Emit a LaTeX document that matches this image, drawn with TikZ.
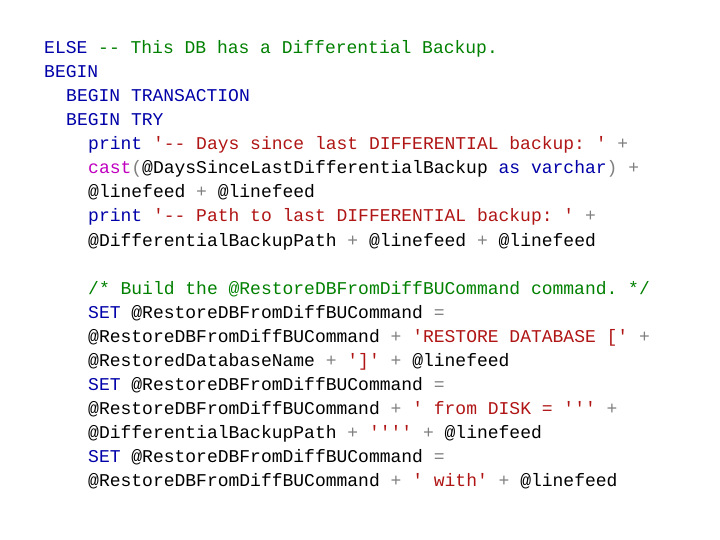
\documentclass[tikz,border=0pt]{standalone}
\usepackage{fontspec}
\setmonofont{Liberation Mono}
\definecolor{kwc}{HTML}{0000A8}
\definecolor{cmc}{HTML}{008000}
\definecolor{stc}{HTML}{B01515}
\definecolor{fnc}{HTML}{C000C0}
\definecolor{opc}{HTML}{808080}
\newcommand\kw[1]{\textcolor{kwc}{#1}}
\newcommand\cm[1]{\textcolor{cmc}{#1}}
\newcommand\st[1]{\textcolor{stc}{#1}}
\newcommand\fn[1]{\textcolor{fnc}{#1}}
\newcommand\op[1]{\textcolor{opc}{#1}}
\tikzset{codeline/.style={anchor=base west,inner sep=0pt,font=\ttfamily\fontsize{18}{20}\selectfont,text=black}}
\begin{document}
\begin{tikzpicture}[x=1pt,y=-1pt]
\useasboundingbox (0,0) rectangle (720,540);
\node[codeline] (l1) at (44,54) {\kw{ELSE} \cm{-{}- This DB has a Differential Backup.}};
\node[codeline] (l2) at (44,78) {\kw{BEGIN}};
\node[codeline] (l3) at (66,102) {\kw{BEGIN TRANSACTION}};
\node[codeline] (l4) at (66,126) {\kw{BEGIN TRY}};
\node[codeline] (l5) at (88,150) {\kw{print} \st{'-{}- Days since last DIFFERENTIAL backup: '} \op{+}};
\node[codeline] (l6) at (88,174) {\fn{cast}\op{(}@DaysSinceLastDifferentialBackup \kw{as} \kw{varchar}\op{)} \op{+}};
\node[codeline] (l7) at (88,198) {@linefeed \op{+} @linefeed};
\node[codeline] (l8) at (88,222) {\kw{print} \st{'-{}- Path to last DIFFERENTIAL backup: '} \op{+}};
\node[codeline] (l9) at (88,246) {@DifferentialBackupPath \op{+} @linefeed \op{+} @linefeed};
\node[codeline] (l10) at (88,294) {\cm{/* Build the @RestoreDBFromDiffBUCommand command. */}};
\node[codeline] (l11) at (88,318) {\kw{SET} @RestoreDBFromDiffBUCommand \op{=}};
\node[codeline] (l12) at (88,342) {@RestoreDBFromDiffBUCommand \op{+} \st{'RESTORE DATABASE ['} \op{+}};
\node[codeline] (l13) at (88,366) {@RestoredDatabaseName \op{+} \st{']'} \op{+} @linefeed};
\node[codeline] (l14) at (88,390) {\kw{SET} @RestoreDBFromDiffBUCommand \op{=}};
\node[codeline] (l15) at (88,414) {@RestoreDBFromDiffBUCommand \op{+} \st{' from DISK = '''} \op{+}};
\node[codeline] (l16) at (88,438) {@DifferentialBackupPath \op{+} \st{''''} \op{+} @linefeed};
\node[codeline] (l17) at (88,462) {\kw{SET} @RestoreDBFromDiffBUCommand \op{=}};
\node[codeline] (l18) at (88,486) {@RestoreDBFromDiffBUCommand \op{+} \st{' with'} \op{+} @linefeed};
\end{tikzpicture}
\end{document}
